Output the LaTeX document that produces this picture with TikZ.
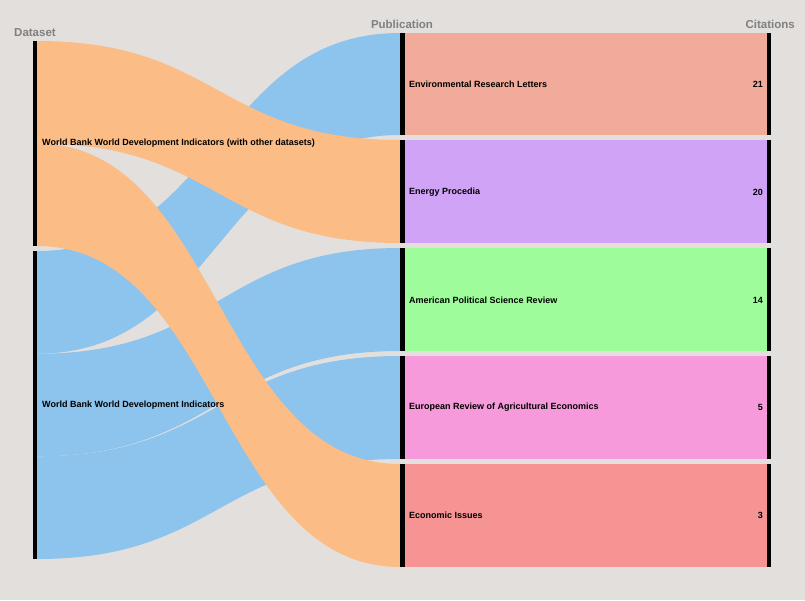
\documentclass[tikz,border=0pt]{standalone}
\usepackage{fontspec}
\setmainfont{Liberation Sans}
\definecolor{bg}{RGB}{227,223,221}
\definecolor{corg}{RGB}{251,189,133}
\definecolor{cblu}{RGB}{141,196,237}
\definecolor{r1}{RGB}{242,170,154}
\definecolor{r2}{RGB}{208,163,247}
\definecolor{r3}{RGB}{158,253,154}
\definecolor{r4}{RGB}{247,154,219}
\definecolor{r5}{RGB}{246,147,147}
\begin{document}
\begin{tikzpicture}[x=1pt,y=-1pt,
  lab/.style={font=\bfseries\fontsize{9}{11}\selectfont,anchor=west,inner sep=0},
  num/.style={font=\bfseries\fontsize{9}{11}\selectfont,anchor=east,inner sep=0},
  hdr/.style={font=\bfseries\fontsize{11.5}{13}\selectfont,text=gray,inner sep=0},
  org/.style={fill=corg},
  blu/.style={fill=cblu}]
\fill[bg] (0,0) rectangle (805,600);
\useasboundingbox (0,0) rectangle (805,600);
\def\band#1#2#3#4#5{\fill[#5] (37,#1) .. controls (218.5,#1) and (218.5,#3) .. (400,#3) -- (400,#4) .. controls (218.5,#4) and (218.5,#2) .. (37,#2) -- cycle;}
\band{251}{353.7}{33}{135}{blu}
\band{353.7}{456.3}{248}{351}{blu}
\band{456.3}{559}{356}{459}{blu}
\band{41}{143.5}{140}{243}{org}
\band{143.5}{246}{464}{567}{org}
\fill[r1] (405,33) rectangle (767,135);
\fill[r2] (405,140) rectangle (767,243);
\fill[r3] (405,248) rectangle (767,351);
\fill[r4] (405,356) rectangle (767,459);
\fill[r5] (405,464) rectangle (767,567);
\fill (33,41) rectangle (37,246);
\fill (33,251) rectangle (37,559);
\foreach \a/\b in {33/135,140/243,248/351,356/459,464/567}{
  \fill (400,\a) rectangle (405,\b);
  \fill (767,\a) rectangle (771,\b);}
\node[lab] (d1) at (42,143) {World Bank World Development Indicators (with other datasets)};
\node[lab] (d2) at (42,405) {World Bank World Development Indicators};
\node[lab] (p1) at (409,84) {Environmental Research Letters};
\node[lab] (p2) at (409,192) {Energy Procedia};
\node[lab] (p3) at (409,300) {American Political Science Review};
\node[lab] (p4) at (409,407) {European Review of Agricultural Economics};
\node[lab] (p5) at (409,515) {Economic Issues};
\node[num] (c1) at (763,84) {21};
\node[num] (c2) at (763,192) {20};
\node[num] (c3) at (763,300) {14};
\node[num] (c4) at (763,407) {5};
\node[num] (c5) at (763,515) {3};
\node[hdr,anchor=west] (h1) at (14,33) {Dataset};
\node[hdr] (h2) at (402,24) {Publication};
\node[hdr,anchor=east] (h3) at (795,24) {Citations};
\end{tikzpicture}
\end{document}
